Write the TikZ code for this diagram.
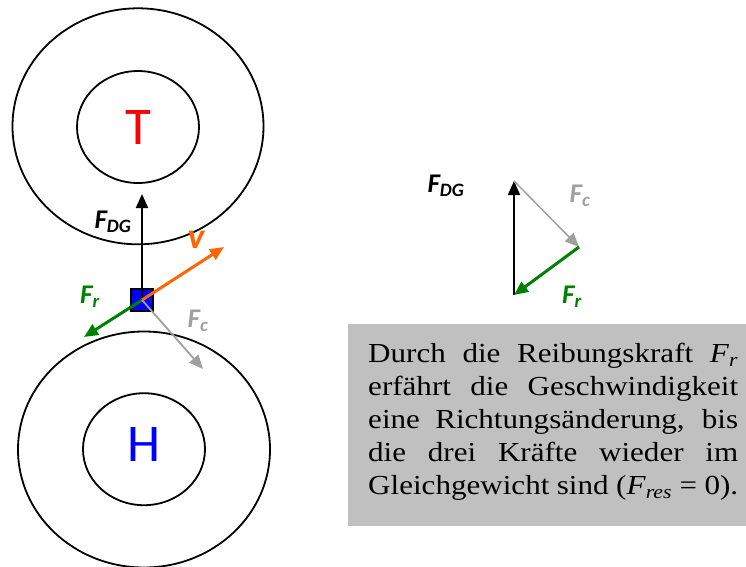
\documentclass[tikz,border=0pt]{standalone}
\usepackage{fontspec}
\setmainfont{Liberation Serif}
\newfontfamily\lblfont{Carlito}
\newfontfamily\boxfont[FakeStretch=1.13]{Liberation Serif}
\usetikzlibrary{arrows.meta,shapes.geometric}
\definecolor{vorange}{HTML}{FF6600}
\definecolor{frgreen}{HTML}{008000}
\definecolor{fcgray}{HTML}{A0A0A0}
\definecolor{boxgray}{HTML}{C0C0C0}
\begin{document}
\begin{tikzpicture}[x=1pt,y=-1pt,
  ring/.style={draw=black,line width=1.8pt,ellipse,inner sep=0pt},
  force/.style={-{Triangle[length=14pt,width=12pt]}},
  lbl/.style={font=\lblfont\fontsize{27}{30}\selectfont\bfseries\itshape,inner sep=0pt},
  big/.style={font=\lblfont\fontsize{53}{56}\selectfont,inner sep=0pt}]
\useasboundingbox (0,0) rectangle (746,566);
% top planet (T)
\node[ring,minimum width=251pt,minimum height=236pt] (Tout) at (138,126.3) {};
\node[ring,minimum width=122pt,minimum height=112pt] (Tin) at (138,127) {};
\node[big,text=red] (T) at (138,127) {T};
% bottom planet (H)
\node[ring,minimum width=252pt,minimum height=236pt] (Hout) at (144,449.5) {};
\node[ring,minimum width=122pt,minimum height=112pt] (Hin) at (144,449.2) {};
\node[big,text=blue] (H) at (144,444.5) {H};
% mass element
\node[draw=black,line width=1.5pt,fill=blue,minimum size=22pt,inner sep=0pt] (m) at (142,300) {};
\coordinate (fdgtip) at (142,194);
\coordinate (vtip) at (224,247);
\coordinate (frtip) at (84,337);
\coordinate (fctip) at (203,369);
\draw[force,line width=2pt] (m.center) -- (fdgtip);
\draw[force,vorange,line width=3pt] (m.center) -- (vtip);
\draw[force,frgreen,line width=3pt] (m.center) -- (frtip);
\draw[force,fcgray,line width=1.8pt] (m.center) -- (fctip);
\node[lbl] (lfdg) at (113,222) {F\textsubscript{DG}};
\node[lbl,text=vorange,font=\lblfont\fontsize{36}{38}\selectfont\bfseries\itshape] (lv) at (196,240) {v};
\node[lbl,text=frgreen] (lfr) at (90,297) {F\textsubscript{r}};
\node[lbl,text=fcgray] (lfc) at (198,321) {F\textsubscript{c}};
% force triangle
\coordinate (A) at (514,295);
\coordinate (B) at (514,181);
\coordinate (C) at (579,247);
\draw[force,line width=2pt] (A) -- (B);
\draw[force,fcgray,line width=1.5pt] (B) -- (C);
\draw[force,frgreen,line width=3pt] (C) -- (A);
\node[lbl] (tfdg) at (446,186) {F\textsubscript{DG}};
\node[lbl,text=fcgray] (tfc) at (580,196) {F\textsubscript{c}};
\node[lbl,text=frgreen] (tfr) at (572,297) {F\textsubscript{r}};
% text box
\node[fill=boxgray,minimum width=398pt,minimum height=202pt,inner sep=0pt,anchor=north west] (box) at (348,324) {};
\node[anchor=north west,inner sep=0pt,text width=370pt,align=justify,
  font=\boxfont\fontsize{27.5}{33}\selectfont] (txt) at (368,343.2)
{\baselineskip=33pt\tolerance=10000 Durch die Reibungskraft \textit{F}\textsubscript{\textit{r}}\linebreak
erfährt die Geschwindigkeit\linebreak
eine Richtungsänderung, bis\linebreak
die drei Kräfte wieder im\linebreak
Gleichgewicht sind (\textit{F}\textsubscript{\textit{res}} = 0).\par};
\end{tikzpicture}
\end{document}
